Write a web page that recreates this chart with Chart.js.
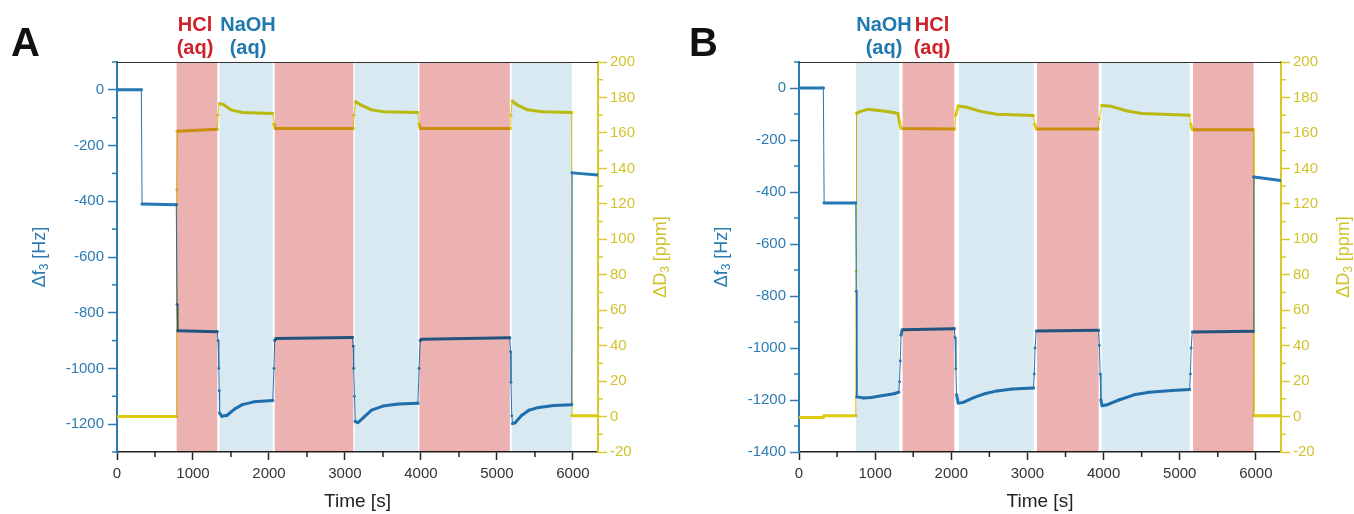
<!DOCTYPE html>
<html>
<head>
<meta charset="utf-8">
<script src="https://cdn.jsdelivr.net/npm/chart.js@4.4.1/dist/chart.umd.min.js"></script>
<style>
  body { margin: 0; background: #fff; width: 1354px; height: 514px; position: relative; overflow: hidden;
         font-family: 'Liberation Sans', Arial, sans-serif; }
  canvas { position: absolute; top: 0; }
  .panel { position: absolute; font-weight: bold; font-size: 40px; line-height: 40px; color: #111; }
  .lbl { position: absolute; top: 13px; width: 80px; font-weight: bold; font-size: 20px; line-height: 23px; text-align: center; }
  .red { color: #cf2129; }
  .blue { color: #1f78ae; }
</style>
</head>
<body>
<canvas id="chartA" width="677" height="514" style="left:0"></canvas>
<canvas id="chartB" width="677" height="514" style="left:677px"></canvas>

<div class="panel" style="left:11px;top:22px">A</div>
<div class="lbl red" style="left:155px">HCl<br>(aq)</div>
<div class="lbl blue" style="left:208px">NaOH<br>(aq)</div>

<div class="panel" style="left:689px;top:22px">B</div>
<div class="lbl blue" style="left:844px">NaOH<br>(aq)</div>
<div class="lbl red" style="left:892px">HCl<br>(aq)</div>

<script>
// ---- Panel A : HCl first ----
const timeA_f = [0, 320, 330, 780, 790, 800, 1320, 1330, 1340, 1345, 1350, 1380, 1450, 1550, 1650, 1800, 2050,
  2065, 2075, 2090, 3100, 3110, 3115, 3125, 3135, 3170, 3250, 3350, 3500, 3700, 3960,
  3975, 3990, 4010, 5170, 5180, 5185, 5195, 5205, 5240, 5320, 5420, 5550, 5750, 5985, 5990, 6330];
const freqA = [0, 0, -410, -412, -770, -865, -868, -900, -1000, -1080, -1160, -1172, -1168, -1145, -1130, -1120, -1115,
  -1000, -900, -893, -889, -920, -1000, -1100, -1190, -1195, -1175, -1150, -1135, -1128, -1125,
  -1000, -900, -895, -890, -940, -1050, -1170, -1198, -1195, -1170, -1150, -1140, -1133, -1130, -298, -306];
const timeA_d = [0, 780, 785, 790, 1320, 1330, 1345, 1400, 1500, 1650, 2050, 2065, 2080, 3110,
  3120, 3140, 3200, 3350, 3500, 3960, 3975, 3990, 5175, 5185, 5200, 5260, 5400, 5600, 5985, 5990, 6330];
const dissA = [0, 0, 128, 161, 162, 170, 176.5, 176, 173, 171.5, 171, 165, 162.5, 162.5,
  170, 177.5, 176, 173, 172, 171.5, 165, 162.5, 162.5, 170, 178, 176, 173, 172, 171.5, 0.5, 0.5];
const hclA = [[785, 1320], [2075, 3110], [3980, 5170]];
const naohA = [[1350, 2050], [3130, 3960], [5195, 5985]];

// ---- Panel B : NaOH first ----
const timeB_f = [0, 320, 330, 745, 752, 760, 850, 950, 1100, 1250, 1310, 1320, 1330, 1340, 1355, 2040,
  2050, 2060, 2070, 2090, 2150, 2300, 2450, 2600, 2800, 3080, 3090, 3100, 3115, 3935,
  3945, 3955, 3965, 3980, 4050, 4200, 4400, 4600, 4900, 5130, 5140, 5150, 5165, 5970, 5975, 6330];
const freqB = [0, 0, -442, -442, -782, -1188, -1192, -1190, -1183, -1176, -1170, -1130, -1050, -950, -930, -926,
  -960, -1080, -1180, -1212, -1210, -1190, -1175, -1165, -1158, -1154, -1100, -1000, -935, -932,
  -990, -1100, -1200, -1222, -1218, -1200, -1180, -1170, -1163, -1160, -1100, -1000, -938, -936, -342, -356];
const timeB_d = [0, 320, 330, 745, 750, 755, 800, 900, 1050, 1200, 1300, 1320, 1340, 2045,
  2060, 2090, 2200, 2400, 2600, 3080, 3095, 3115, 3930, 3945, 3975, 4100, 4300, 4500, 5130,
  5145, 5165, 5970, 5975, 6330];
const dissB = [-0.5, -0.5, 0.5, 0.5, 82, 171, 172, 173.3, 172.7, 171.8, 171, 166, 162.5, 162.2,
  170, 175.2, 174.5, 172, 170.5, 169.8, 165, 162.2, 162.2, 168, 175.5, 175, 172.5, 171, 170,
  165, 161.8, 161.8, 0.5, 0.5];
const naohB = [[750, 1315], [2100, 3080], [3975, 5130]];
const hclB = [[1360, 2040], [3125, 3935], [5175, 5970]];

// tick positions (major ones get labels)
const timeTicks = [0, 500, 1000, 1500, 2000, 2500, 3000, 3500, 4000, 4500, 5000, 5500, 6000];

const FONT = "'Liberation Sans', Arial, sans-serif";
const BLUE = '#2479b5', YELLOW = '#dccb10';
const BLUE_TXT = '#2c7cb2', YEL_TXT = '#d2c32c', YEL_AXIS = '#d8c82c';
const RED_SHADE = '#ecb1b1', BLUE_SHADE = '#d8e9f2';

const isMajor = (v, m) => Math.abs(v / m - Math.round(v / m)) < 1e-6;

function drawSub(ctx, x, y, rot, color, base, sub, rest) {
  ctx.save();
  ctx.translate(x, y);
  ctx.rotate(rot);
  ctx.fillStyle = color;
  ctx.textBaseline = 'middle';
  ctx.textAlign = 'left';
  ctx.font = '18px ' + FONT;
  const w1 = ctx.measureText(base).width, w3 = ctx.measureText(rest).width;
  ctx.font = '12px ' + FONT;
  const w2 = ctx.measureText(sub).width;
  let cx = -(w1 + w2 + w3) / 2;
  ctx.font = '18px ' + FONT;
  ctx.fillText(base, cx, 0); cx += w1;
  ctx.font = '12px ' + FONT;
  ctx.fillText(sub, cx, 5); cx += w2;
  ctx.font = '18px ' + FONT;
  ctx.fillText(rest, cx, 0);
  ctx.restore();
}

const shadePlugin = {
  id: 'shade',
  beforeDraw(chart) {
    const ctx = chart.ctx;
    ctx.save();
    ctx.fillStyle = '#fff';
    ctx.fillRect(0, 0, chart.width, chart.height);
    ctx.restore();
  },
  afterDatasetsDraw(chart, args, opts) {
    const { ctx, chartArea: a, scales } = chart;
    const x = scales.x;
    ctx.save();
    ctx.globalCompositeOperation = 'multiply';
    const fill = (list, color) => list.forEach(r => {
      const x0 = x.getPixelForValue(r[0]), x1 = x.getPixelForValue(r[1]);
      ctx.fillStyle = color;
      ctx.fillRect(x0, a.top, x1 - x0, a.bottom - a.top);
    });
    fill(opts.hcl, RED_SHADE);
    fill(opts.naoh, BLUE_SHADE);
    ctx.restore();

    // top frame line
    ctx.save();
    ctx.strokeStyle = '#333';
    ctx.lineWidth = 1.2;
    ctx.beginPath();
    ctx.moveTo(a.left, a.top + 0.5);
    ctx.lineTo(a.right, a.top + 0.5);
    ctx.stroke();
    ctx.restore();
  },
  afterDraw(chart, args, opts) {
    const { ctx, chartArea: a, scales } = chart;
    // minor ticks
    const minor = (scale, major, color, side) => {
      ctx.save();
      ctx.strokeStyle = color;
      ctx.lineWidth = 1.5;
      scale.ticks.forEach(t => {
        if (isMajor(t.value, major)) return;
        const p = scale.getPixelForValue(t.value);
        ctx.beginPath();
        if (side === 'left') { ctx.moveTo(scale.right - 5, p); ctx.lineTo(scale.right, p); }
        else if (side === 'right') { ctx.moveTo(scale.left, p); ctx.lineTo(scale.left + 5, p); }
        else { ctx.moveTo(p, scale.top); ctx.lineTo(p, scale.top + 5); }
        ctx.stroke();
      });
      ctx.restore();
    };
    minor(scales.y, 200, BLUE_TXT, 'left');
    minor(scales.y1, 20, YEL_AXIS, 'right');
    minor(scales.x, 1000, '#222', 'bottom');

    // axis titles
    const midY = (a.top + a.bottom) / 2;
    drawSub(ctx, a.left - 77, midY, -Math.PI / 2, BLUE_TXT, '\u0394f', '3', ' [Hz]');
    drawSub(ctx, a.right + 63, midY, -Math.PI / 2, YEL_TXT, '\u0394D', '3', ' [ppm]');
    ctx.save();
    ctx.fillStyle = '#222';
    ctx.font = '19px ' + FONT;
    ctx.textAlign = 'center';
    ctx.textBaseline = 'middle';
    ctx.fillText('Time [s]', (a.left + a.right) / 2, 502);
    ctx.restore();
  }
};

function lineSet(label, t, v, axis, color) {
  return {
    label: label,
    data: t.map((x, i) => ({ x: x, y: v[i] })),
    yAxisID: axis,
    borderColor: color,
    backgroundColor: color,
    borderWidth: 3,
    borderJoinStyle: 'round',
    borderCapStyle: 'round',
    pointRadius: 1.4,
    pointBorderWidth: 0,
    pointBackgroundColor: color,
    tension: 0,
    segment: {
      borderWidth: c => Math.abs(c.p1.y - c.p0.y) > 3 * Math.abs(c.p1.x - c.p0.x) + 5 ? 1 : 3
    }
  };
}

function buildChart(id, o) {
  return new Chart(document.getElementById(id), {
    type: 'line',
    data: {
      datasets: [
        lineSet('\u0394f3', o.tf, o.f, 'y', BLUE),
        lineSet('\u0394D3', o.td, o.d, 'y1', YELLOW)
      ]
    },
    options: {
      responsive: false,
      animation: false,
      layout: { padding: { top: 62, left: 0, right: 0, bottom: 0 } },
      plugins: {
        legend: { display: false },
        tooltip: { enabled: false },
        shade: { hcl: o.hcl, naoh: o.naoh }
      },
      scales: {
        x: {
          type: 'linear', min: 0, max: 6330,
          afterFit: s => { s.height = 62; },
          afterBuildTicks: s => { s.ticks = timeTicks.map(v => ({ value: v })); },
          border: { display: true, color: '#222', width: 1.5 },
          grid: { drawOnChartArea: false, tickLength: 8, tickWidth: 1.5,
                  tickColor: c => isMajor(c.tick.value, 1000) ? '#222' : 'rgba(0,0,0,0)' },
          ticks: { autoSkip: false, maxRotation: 0, padding: 5,
                   color: '#333', font: { size: 15, family: FONT },
                   callback: v => isMajor(v, 1000) ? String(v) : '' }
        },
        y: {
          position: 'left', min: o.fMin, max: 100,
          afterFit: s => { s.width = o.leftW; },
          border: { display: true, color: BLUE_TXT, width: 2 },
          grid: { drawOnChartArea: false, tickLength: 9, tickWidth: 1.5,
                  tickColor: c => isMajor(c.tick.value, 200) ? BLUE_TXT : 'rgba(0,0,0,0)' },
          ticks: { stepSize: 100, autoSkip: false, padding: 4, color: BLUE_TXT,
                   font: { size: 15, family: FONT },
                   callback: v => isMajor(v, 200) ? String(v) : '' }
        },
        y1: {
          position: 'right', min: -20, max: 200,
          afterFit: s => { s.width = o.rightW; },
          border: { display: true, color: YEL_AXIS, width: 2 },
          grid: { drawOnChartArea: false, tickLength: 9, tickWidth: 1.5,
                  tickColor: c => isMajor(c.tick.value, 20) ? YEL_AXIS : 'rgba(0,0,0,0)' },
          ticks: { stepSize: 10, autoSkip: false, padding: 3, color: YEL_TXT,
                   font: { size: 15, family: FONT },
                   callback: v => isMajor(v, 20) ? String(v) : '' }
        }
      }
    },
    plugins: [shadePlugin]
  });
}

buildChart('chartA', { tf: timeA_f, f: freqA, td: timeA_d, d: dissA, hcl: hclA, naoh: naohA,
  fMin: -1300, leftW: 117, rightW: 79 });
buildChart('chartB', { tf: timeB_f, f: freqB, td: timeB_d, d: dissB, hcl: hclB, naoh: naohB,
  fMin: -1400, leftW: 122, rightW: 73 });
</script>
</body>
</html>
